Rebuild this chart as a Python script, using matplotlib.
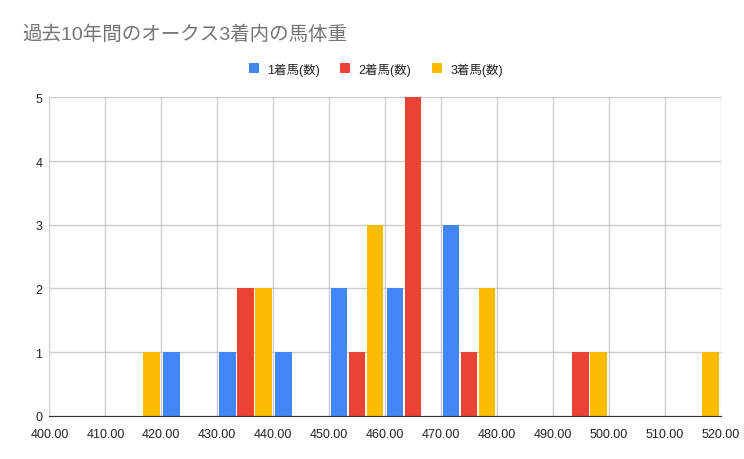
import matplotlib.pyplot as plt
import numpy as np

plt.rcParams["font.family"] = ["Liberation Sans", "Noto Sans CJK JP", "DejaVu Sans"]

weights = [415, 425, 435, 445, 455, 465, 475, 495, 515]
first = [0, 1, 1, 1, 2, 2, 3, 0, 0]
second = [0, 0, 2, 0, 1, 5, 1, 1, 0]
third = [1, 0, 2, 0, 3, 0, 2, 1, 1]
labels = ["1着馬(数)", "2着馬(数)", "3着馬(数)"]
colors = ["#4285f4", "#ea4335", "#fbbc04"]

fig = plt.figure(figsize=[7.44, 4.6], dpi=100)
ax = fig.add_axes([0.0665, 0.094, 0.902, 0.692])

x = np.array(weights, dtype=float)
step = 3.22
width = 3.0
for i, (vals, lab, col) in enumerate(zip([first, second, third], labels, colors)):
    v = np.array(vals, dtype=float)
    m = v > 0
    ax.bar(x[m] + (i - 1) * step, v[m], width=width, color=col, label=lab, zorder=3)

ax.set_xlim(400, 520)
ax.set_ylim(0, 5)
ax.set_xticks(np.arange(400, 521, 10))
ax.set_xticklabels(["%.2f" % t for t in np.arange(400, 521, 10)])
ax.set_yticks(range(0, 6))
ax.grid(True, color="#cccccc", linewidth=1, zorder=0)
for s in ["top", "right", "left"]:
    ax.spines[s].set_visible(False)
ax.spines["bottom"].set_color("#333333")
ax.spines["bottom"].set_zorder(4)
ax.tick_params(length=0, labelsize=9, colors="#222222")
ax.tick_params(axis="x", pad=9)
ax.tick_params(axis="y", pad=5)

fig.text(0.030, 0.924, "過去10年間のオークス3着内の馬体重", fontsize=14,
         color="#757575", va="center", ha="left")
fig.legend(loc="center", bbox_to_anchor=(0.505, 0.848), ncol=3, frameon=False,
           fontsize=9, handlelength=0.8, handleheight=0.8, columnspacing=1.6,
           handletextpad=0.7, labelcolor="#222222")

fig.savefig("out.png", dpi=100)
